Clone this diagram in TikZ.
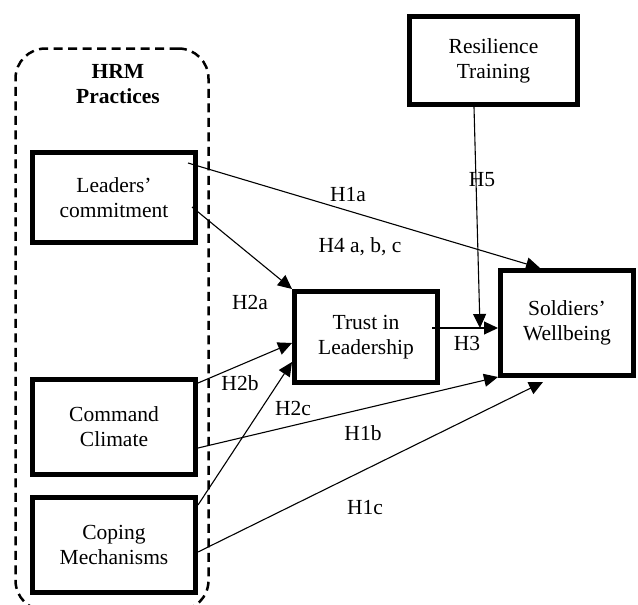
\documentclass[tikz,border=0pt]{standalone}
\usepackage{fontspec}
\setmainfont{Liberation Serif}
\usetikzlibrary{arrows.meta}
\begin{document}
\begin{tikzpicture}[x=1pt,y=-1pt,
  box/.style={draw, line width=5pt, rectangle, inner sep=0pt, align=center, font=\fontsize{21.5}{25}\selectfont},
  link/.style={line width=1.1pt, -{Triangle[length=14pt,width=13pt]}},
  lab/.style={font=\fontsize{21.5}{25}\selectfont, inner sep=0pt}]
\useasboundingbox (0,0) rectangle (638,605);
% group
\node[draw, line width=2.5pt, dash pattern=on 9pt off 5.5pt, rounded corners=30pt,
      minimum width=193pt, minimum height=562pt, inner sep=0pt] (hrm) at (112,329.5) {};
\node[font=\fontsize{21.5}{25}\selectfont\bfseries, align=center, inner sep=0pt] (hrmlab) at (118,84) {HRM\\Practices};
% boxes
\node[box, minimum width=163pt, minimum height=90pt] (leaders) at (114,197.5) {Leaders'\\commitment};
\node[box, minimum width=163pt, minimum height=95pt] (command) at (114,427) {Command\\Climate};
\node[box, minimum width=163pt, minimum height=95pt] (coping) at (114,545) {Coping\\Mechanisms};
\node[box, minimum width=143pt, minimum height=91pt] (trust) at (366,337) {Trust in\\Leadership};
\node[box, minimum width=133pt, minimum height=105pt] (soldiers) at (567,323) {Soldiers'\\Wellbeing};
\node[box, minimum width=168pt, minimum height=88pt] (resil) at (493.5,60.5) {Resilience\\Training};
% free ends
\coordinate (s1a) at (188,163);
\coordinate (s4) at (192,207);
\coordinate (s3) at (432,328);
\coordinate (t5) at (480,328);
% connectors
\draw[link] (s1a) -- ([xshift=-27pt]soldiers.north);
\draw[link] (s4) -- (trust.north west);
\draw[link] ([yshift=-6pt]command.north east) -- ([yshift=-6pt]trust.west);
\draw[link] ([yshift=-10pt]coping.north east) -- ([yshift=-25pt]trust.west);
\draw[link] ([yshift=-21pt]command.east) -- ([yshift=1pt]soldiers.south west);
\draw[link] ([yshift=-7pt]coping.east) -- ([xshift=-24pt,yshift=-4pt]soldiers.south);
\draw[link] (s3) -- ([yshift=-5pt]soldiers.west);
\draw[link] ([xshift=-19.5pt]resil.south) -- (t5);
% labels
\node[lab] (l1a) at (348,195) {H1a};
\node[lab] (l4) at (360,247) {H4 a, b, c};
\node[lab] (l2a) at (250,302) {H2a};
\node[lab] (l2b) at (240,383) {H2b};
\node[lab] (l2c) at (293,408) {H2c};
\node[lab] (l1b) at (363,433) {H1b};
\node[lab] (l1c) at (365,508) {H1c};
\node[lab] (l3) at (467,343) {H3};
\node[lab] (l5) at (482,180) {H5};
\end{tikzpicture}
\end{document}
